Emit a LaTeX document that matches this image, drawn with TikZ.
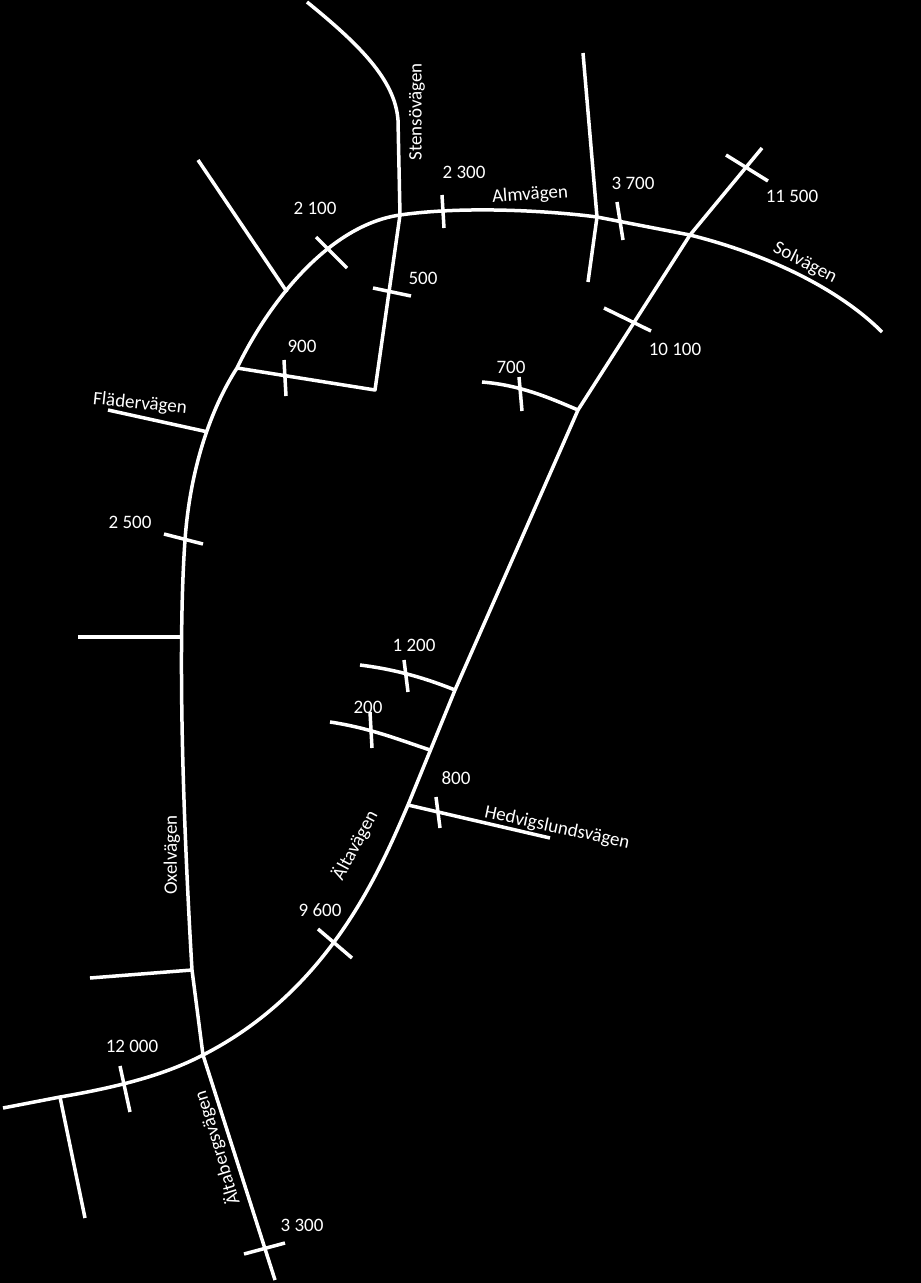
\documentclass[tikz,border=0pt]{standalone}
\usepackage{fontspec}
\setmainfont{Carlito}
\begin{document}
\begin{tikzpicture}[x=1pt,y=-1pt,
  road/.style={draw=white,line width=3.5pt,line join=round},
  tick/.style={draw=white,line width=3.5pt},
  lbl/.style={text=white,font=\fontsize{19}{22}\selectfont,inner sep=0pt}]
\fill[black] (0,0) rectangle (921,1283);
\useasboundingbox (0,0) rectangle (921,1283);
% main loop
\draw[road] (203,1055) -- (192,970) .. controls (182,800) and (178,640) .. (185,540)
  .. controls (190,470) and (210,410) .. (237,368) .. controls (270,300) and (330,225) .. (400,215)
  .. controls (470,205) and (560,212) .. (597,217) -- (690,235);
\draw[road] (690,235) -- (578,410) -- (455,690) -- (408,805)
  .. controls (380,870) and (330,990) .. (203,1055);
% Stensovagen
\draw[road] (307,2) .. controls (360,45) and (395,80) .. (398,120) -- (400,215) -- (375,390) -- (237,368);
\draw[road] (198,160) -- (287,292);
\draw[road] (108,410) -- (208,432);
\draw[road] (78,637) -- (181,637);
\draw[road] (90,978) -- (192,970);
\draw[road] (3,1108) -- (60,1097) .. controls (130,1085) and (170,1072) .. (203,1055);
\draw[road] (60,1097) -- (85,1218);
\draw[road] (203,1055) -- (275,1280);
\draw[road] (690,235) .. controls (770,255) and (840,290) .. (882,332);
\draw[road] (690,235) -- (762,148);
\draw[road] (583,53) -- (597,217) -- (588,282);
\draw[road] (482,382) .. controls (520,385) and (550,398) .. (578,410);
\draw[road] (360,665) .. controls (400,670) and (430,680) .. (455,690);
\draw[road] (330,722) .. controls (370,728) and (400,740) .. (430,750);
\draw[road] (408,805) -- (550,838);
% ticks
\draw[tick] (316,237) -- (347,268);
\draw[tick] (442,195) -- (444,228);
\draw[tick] (617,202) -- (623,240);
\draw[tick] (726,155) -- (768,181);
\draw[tick] (373,288) -- (411,296);
\draw[tick] (284,360) -- (286,396);
\draw[tick] (604,308) -- (651,331);
\draw[tick] (519,377) -- (522,411);
\draw[tick] (164,534) -- (203,544);
\draw[tick] (404,660) -- (408,692);
\draw[tick] (370,712) -- (372,748);
\draw[tick] (436,797) -- (440,828);
\draw[tick] (318,929) -- (352,958);
\draw[tick] (120,1066) -- (130,1112);
\draw[tick] (244,1254) -- (285,1243);
% labels
\node[lbl] at (315,208) {2 100};
\node[lbl] at (464,172) {2 300};
\node[lbl] at (633,183) {3 700};
\node[lbl] at (792,196) {11 500};
\node[lbl] at (423,278) {500};
\node[lbl] at (302,346) {900};
\node[lbl] at (675,349) {10 100};
\node[lbl] at (511,367) {700};
\node[lbl] at (130,522) {2 500};
\node[lbl] at (414,645) {1 200};
\node[lbl] at (368,707) {200};
\node[lbl] at (456,778) {800};
\node[lbl] at (320,910) {9 600};
\node[lbl] at (132,1046) {12 000};
\node[lbl] at (302,1225) {3 300};
\node[lbl,rotate=90] at (417,112) {Stensövägen};
\node[lbl,rotate=4] at (530,195) {Almvägen};
\node[lbl,rotate=-27] at (805,263) {Solvägen};
\node[lbl,rotate=-6] at (140,404) {Flädervägen};
\node[lbl,rotate=90] at (172,855) {Oxelvägen};
\node[lbl,rotate=62] at (355,845) {Ältavägen};
\node[lbl,rotate=-12] at (557,828) {Hedvigslundsvägen};
\node[lbl,rotate=107] at (217,1148) {Ältabergsvägen};
\end{tikzpicture}
\end{document}
